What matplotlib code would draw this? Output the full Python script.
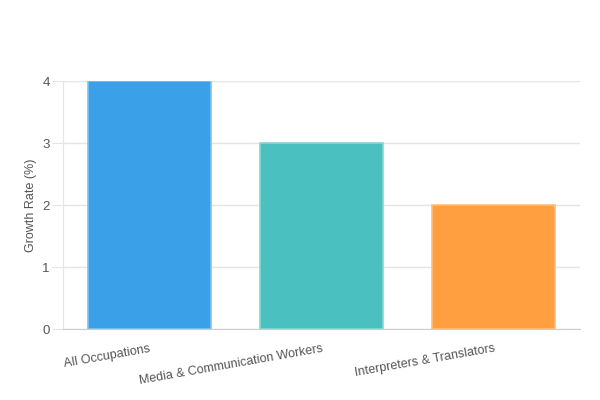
import matplotlib
matplotlib.use("Agg")
import matplotlib.pyplot as plt

categories = ["All Occupations", "Media & Communication Workers", "Interpreters & Translators"]
values = [4, 3, 2]
fill_colors = ["#3AA1E8", "#4BC0C0", "#FF9F40"]
edge_colors = ["#7CC3F0", "#86D6D6", "#FFBE7A"]
yticks = [0, 1, 2, 3, 4]

plt.rcParams['font.family'] = ['Liberation Sans', 'DejaVu Sans']

fig = plt.figure(figsize=(6, 4), dpi=100)
ax = fig.add_axes([63/600, 1-329/400, (580-63)/600, (329-81)/400])

x = list(range(len(categories)))
ax.bar(x, values, width=0.715, color=fill_colors, edgecolor=edge_colors, linewidth=1.2, zorder=3)
ax.set_xlim(-0.5, len(categories)-0.5)
ax.set_ylim(0, 4)
ax.set_yticks(yticks)
ax.set_yticklabels([str(v) for v in yticks])
ax.grid(axis='y', color='#E5E5E5', linewidth=1, zorder=0)
ax.set_xticks(x)
ax.set_xticklabels(categories, rotation=10, ha='right', rotation_mode='anchor')
ax.tick_params(axis='x', length=0, pad=10, labelsize=9, labelcolor='#555555')
ax.tick_params(axis='y', length=8, color='#E5E5E5', pad=1.5, labelsize=9.5, labelcolor='#555555')
for s in ['top', 'right']:
    ax.spines[s].set_visible(False)
ax.spines['left'].set_color('#E5E5E5')
ax.spines['bottom'].set_color('#CCCCCC')
ax.set_ylabel("Growth Rate (%)", fontsize=9, color='#555555', labelpad=4)

fig.savefig("out.png", dpi=100)
